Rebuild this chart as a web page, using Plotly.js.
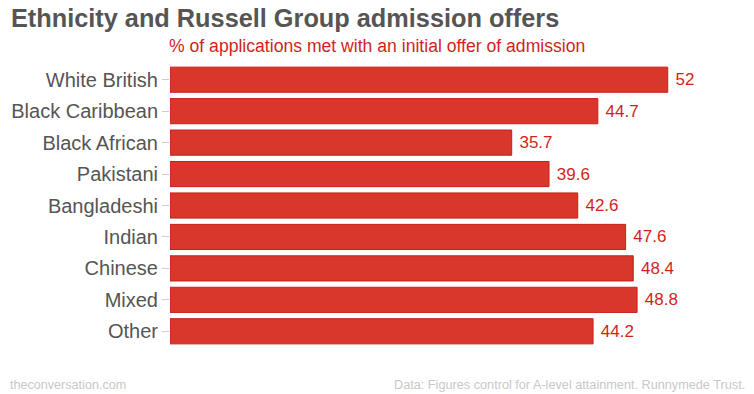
<!DOCTYPE html>
<html><head><meta charset="utf-8">
<script src="https://cdn.plot.ly/plotly-3.0.1.min.js"></script>
<style>body{margin:0;background:#fff}#c{width:754px;height:394px}</style>
</head><body><div id="c"></div>
<script>
var categories = ["White British","Black Caribbean","Black African","Pakistani","Bangladeshi","Indian","Chinese","Mixed","Other"];
var values = [52, 44.7, 35.7, 39.6, 42.6, 47.6, 48.4, 48.8, 44.2];
var valueLabels = ["52","44.7","35.7","39.6","42.6","47.6","48.4","48.8","44.2"];

var trace = {
  type: 'bar', orientation: 'h',
  x: values, y: categories,
  text: valueLabels.map(function(s){ return '\u00a0' + s; }), textposition: 'outside', cliponaxis: false,
  textfont: {family: 'Liberation Sans, Arial, sans-serif', size: 17, color: '#d21f1b'},
  marker: {color: '#d9372b', line: {color: '#c4211b', width: 1}},
  hoverinfo: 'none'
};
var layout = {
  width: 754, height: 394,
  margin: {l: 170, r: 10, t: 64, b: 47},
  paper_bgcolor: '#fff', plot_bgcolor: '#fff',
  showlegend: false, bargap: 0.2,
  xaxis: {range: [0, 59.97], visible: false, fixedrange: true},
  yaxis: {autorange: 'reversed', showgrid: false, zeroline: false, showline: false,
    ticks: 'outside', ticklen: 7, tickcolor: '#cccccc', tickwidth: 1,
    tickfont: {family: 'Liberation Sans, Arial, sans-serif', size: 20, color: '#555555'},
    ticklabelstandoff: 0},
  annotations: [
    {text: '<b>Ethnicity and Russell Group admission offers</b>', xref: 'paper', yref: 'paper',
     x: 0, xanchor: 'left', xshift: -161, y: 1, yshift: 64 - 18, yanchor: 'middle', showarrow: false,
     font: {family: 'Liberation Sans, Arial, sans-serif', size: 25.3, color: '#555555'}},
    {text: '% of applications met with an initial offer of admission', xref: 'paper', yref: 'paper',
     x: 0, xanchor: 'left', xshift: -3, y: 1, yshift: 64 - 46, yanchor: 'middle', showarrow: false,
     font: {family: 'Liberation Sans, Arial, sans-serif', size: 17.6, color: '#d21f1b'}},
    {text: 'theconversation.com', xref: 'paper', yref: 'paper',
     x: 0, xanchor: 'left', xshift: -162, y: 0, yshift: -(385 - 347), yanchor: 'middle', showarrow: false,
     font: {family: 'Liberation Sans, Arial, sans-serif', size: 12.6, color: '#c8c8c8'}},
    {text: 'Data: Figures control for A-level attainment. Runnymede Trust.', xref: 'paper', yref: 'paper',
     x: 1, xanchor: 'right', xshift: 3, y: 0, yshift: -(385 - 347), yanchor: 'middle', showarrow: false,
     font: {family: 'Liberation Sans, Arial, sans-serif', size: 12.7, color: '#c8c8c8'}}
  ]
};
Plotly.newPlot('c', [trace], layout, {displayModeBar: false, staticPlot: true});
</script></body></html>
